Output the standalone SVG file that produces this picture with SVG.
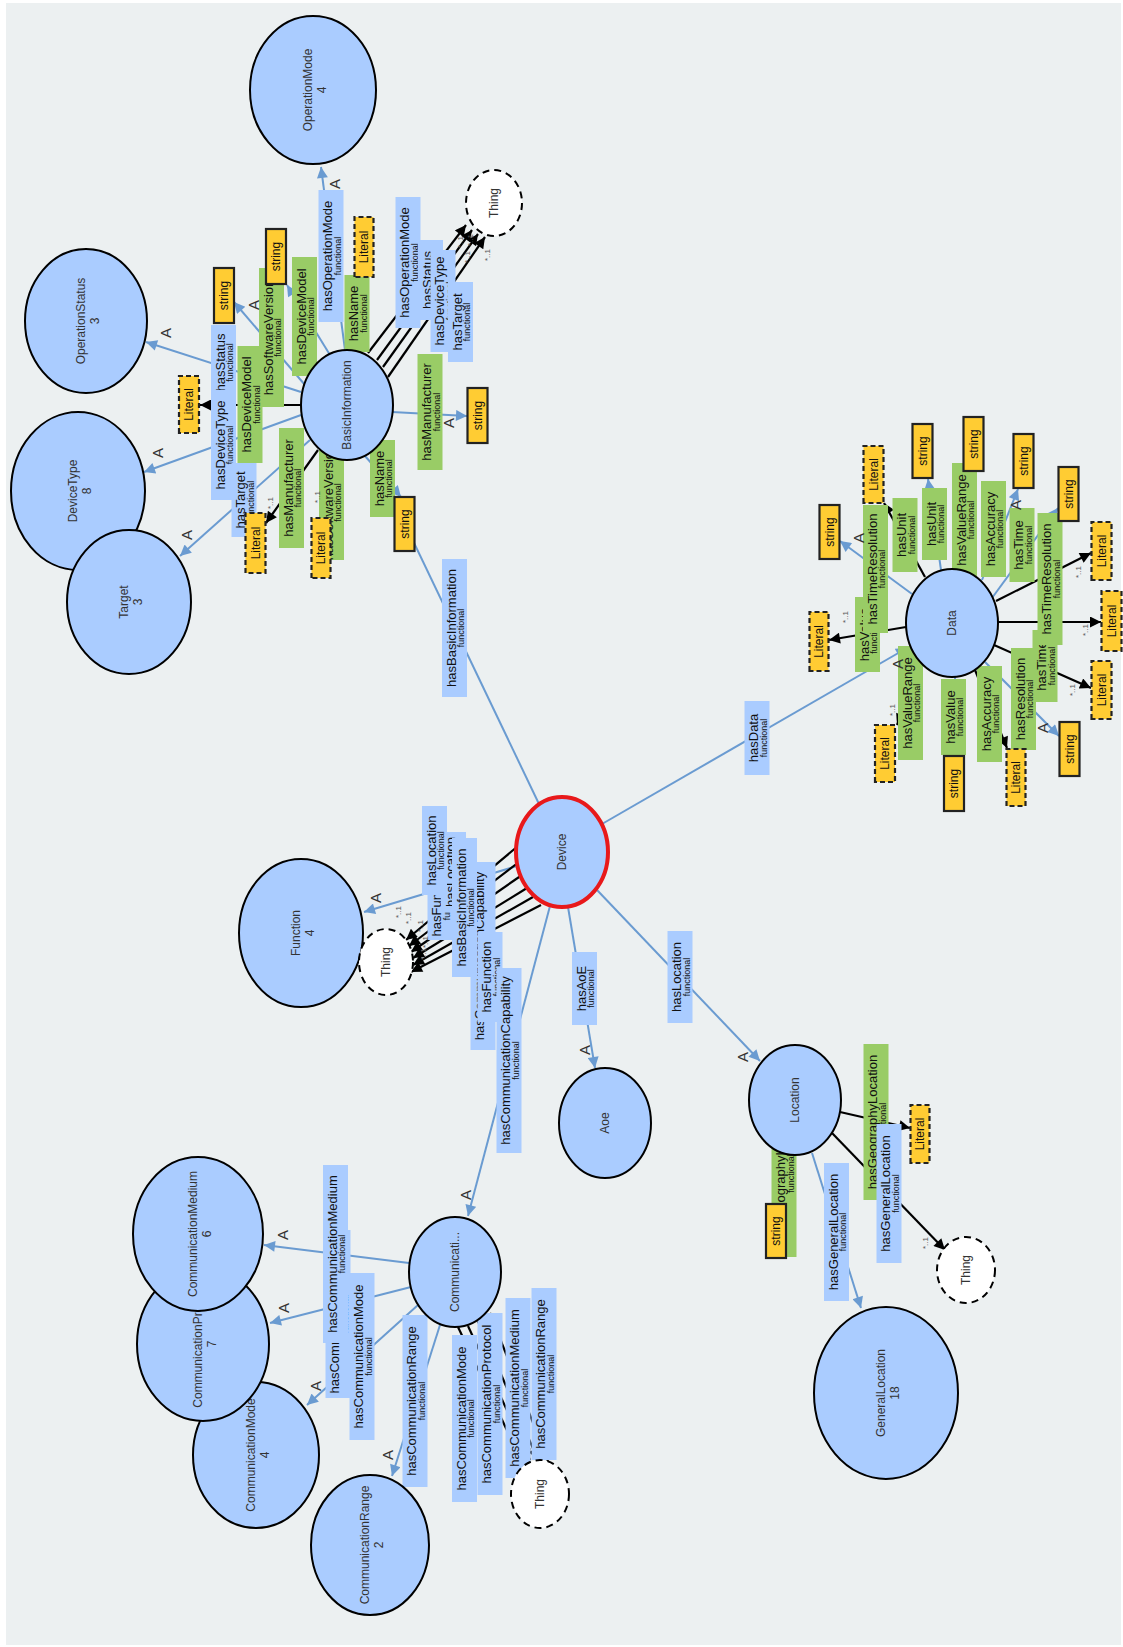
<svg xmlns="http://www.w3.org/2000/svg" width="1123" height="1647" viewBox="0 0 1123 1647">
<defs>
<style>
.bg{fill:#ecf0f1}
.e{fill:none;stroke:#6a9bd1;stroke-width:2}
.k{fill:none;stroke:#000;stroke-width:2.2}
.op{fill:#aaccff}
.dp{fill:#99cc66}
.dt{fill:#ffcc33;stroke:#222;stroke-width:2.2}
.li{stroke-dasharray:5 3}
.c{fill:#aaccff;stroke:#000;stroke-width:2}
.dev{fill:#aaccff;stroke:#e8191b;stroke-width:4}
.th{fill:#fff;stroke:#000;stroke-width:2;stroke-dasharray:7 5}
text{font-family:"Liberation Sans",Arial,sans-serif;text-anchor:middle;dominant-baseline:central;fill:#111}
.t{font-size:13px}
.f{font-size:9px}
.n{font-size:12px;fill:#333}
.d{font-size:12px}
.q{font-size:15px;fill:#333}
.cd{font-size:8px;fill:#555}
</style>
<marker id="ab" viewBox="0 0 10 10" refX="10" refY="5" markerWidth="13" markerHeight="11" markerUnits="userSpaceOnUse" orient="auto"><path d="M0,0L10,5L0,10z" fill="#6a9bd1"/></marker>
<marker id="ak" viewBox="0 0 10 10" refX="10" refY="5" markerWidth="13" markerHeight="11" markerUnits="userSpaceOnUse" orient="auto"><path d="M0,0L10,5L0,10z" fill="#000"/></marker>
</defs>
<rect width="1123" height="1647" fill="#fff"/>
<rect class="bg" x="6" y="3" width="1115" height="1642"/>

<g id="connectors">
<g id="lines-blue" class="e" marker-end="url(#ab)">
<path d="M539,804L371,453"/>
<path d="M602,824L907,648"/>
<path d="M597,890L760,1061"/>
<path d="M568,907L595,1068"/>
<path d="M550,906L468,1216"/>
<path d="M517,866L364,912"/>
<path d="M345,350L321,167"/>
<path d="M301,392L146,342"/>
<path d="M301,415L144,472"/>
<path d="M310,440L180,556"/>
<path d="M392,412L467,416"/>
<path d="M365,456L401,497"/>
<path d="M330,355L287,285"/>
<path d="M305,385L234,302"/>
<path d="M912,594L840,541"/>
<path d="M941,570L928,479"/>
<path d="M960,570L973,472"/>
<path d="M982,580L1018,489"/>
<path d="M992,598L1058,508"/>
<path d="M985,662L1059,736"/>
<path d="M955,677L954,755"/>
<path d="M812,1153L861,1308"/>
<path d="M790,1155L777,1203"/>
<path d="M409,1263L264,1245"/>
<path d="M411,1287L270,1323"/>
<path d="M418,1305L307,1405"/>
<path d="M440,1325L392,1476"/>
</g>
<g id="lines-black" class="k" marker-end="url(#ak)">
<path d="M301,405L200,405"/>
<path d="M318,450L266,523"/>
<path d="M335,459L322,517"/>
<path d="M352,350L363,278"/>
<path d="M368,353L466,225"/>
<path d="M377,360L472,230"/>
<path d="M383,367L478,234"/>
<path d="M388,377L485,237"/>
<path d="M518,846L406,940"/>
<path d="M519,862L409,946"/>
<path d="M522,875L411,952"/>
<path d="M527,888L413,958"/>
<path d="M533,897L413,965"/>
<path d="M541,905L411,972"/>
<path d="M925,577L884,503"/>
<path d="M906,627L829,640"/>
<path d="M922,665L897,725"/>
<path d="M975,670L1007,748"/>
<path d="M996,601L1091,553"/>
<path d="M998,622L1101,622"/>
<path d="M994,645L1091,688"/>
<path d="M840,1112L910,1128"/>
<path d="M832,1133L945,1250"/>
<path d="M458,1327L522,1462"/>
<path d="M468,1326L530,1460"/>
<path d="M478,1321L538,1460"/>
<path d="M490,1313L548,1461"/>
</g>

<g id="labels">
<g transform="translate(331 256) rotate(-90)"><rect class="op" x="-66" y="-12.5" width="132" height="25"/><text class="t" y="-3.5">hasOperationMode</text><text class="f" y="6.5">functional</text></g>
<g transform="translate(357 313.5) rotate(-90)"><rect class="dp" x="-38.5" y="-12.5" width="77" height="25"/><text class="t" y="-3.5">hasName</text><text class="f" y="6.5">functional</text></g>
<g transform="translate(304.5 316.5) rotate(-90)"><rect class="dp" x="-59.5" y="-12.5" width="119" height="25"/><text class="t" y="-3.5">hasDeviceModel</text><text class="f" y="6.5">functional</text></g>
<g transform="translate(271.5 337.5) rotate(-90)"><rect class="dp" x="-69.5" y="-12.5" width="139" height="25"/><text class="t" y="-3.5">hasSoftwareVersion</text><text class="f" y="6.5">functional</text></g>
<g transform="translate(223.5 362.5) rotate(-90)"><rect class="op" x="-37.5" y="-12.5" width="75" height="25"/><text class="t" y="-3.5">hasStatus</text><text class="f" y="6.5">functional</text></g>
<g transform="translate(223.5 445) rotate(-90)"><rect class="op" x="-55" y="-12.5" width="110" height="25"/><text class="t" y="-3.5">hasDeviceType</text><text class="f" y="6.5">functional</text></g>
<g transform="translate(250 404.5) rotate(-90)"><rect class="dp" x="-58.5" y="-12.5" width="117" height="25"/><text class="t" y="-3.5">hasDeviceModel</text><text class="f" y="6.5">functional</text></g>
<g transform="translate(244 500) rotate(-90)"><rect class="op" x="-37" y="-12.5" width="74" height="25"/><text class="t" y="-3.5">hasTarget</text><text class="f" y="6.5">functional</text></g>
<g transform="translate(291.5 488) rotate(-90)"><rect class="dp" x="-60" y="-12.5" width="120" height="25"/><text class="t" y="-3.5">hasManufacturer</text><text class="f" y="6.5">functional</text></g>
<g transform="translate(331.5 502.5) rotate(-90)"><rect class="dp" x="-57.5" y="-12.5" width="115" height="25"/><text class="t" y="-3.5">hasSoftwareVersion</text><text class="f" y="6.5">functional</text></g>
<g transform="translate(382.5 478.5) rotate(-90)"><rect class="dp" x="-38.5" y="-12.5" width="77" height="25"/><text class="t" y="-3.5">hasName</text><text class="f" y="6.5">functional</text></g>
<g transform="translate(430 412) rotate(-90)"><rect class="dp" x="-58" y="-12.5" width="116" height="25"/><text class="t" y="-3.5">hasManufacturer</text><text class="f" y="6.5">functional</text></g>
<g transform="translate(408 262.5) rotate(-90)"><rect class="op" x="-65.5" y="-12.5" width="131" height="25"/><text class="t" y="-3.5">hasOperationMode</text><text class="f" y="6.5">functional</text></g>
<g transform="translate(430.5 280) rotate(-90)"><rect class="op" x="-40" y="-12.5" width="80" height="25"/><text class="t" y="-3.5">hasStatus</text><text class="f" y="6.5">functional</text></g>
<g transform="translate(443 301) rotate(-90)"><rect class="op" x="-51" y="-12.5" width="102" height="25"/><text class="t" y="-3.5">hasDeviceType</text><text class="f" y="6.5">functional</text></g>
<g transform="translate(460.5 322) rotate(-90)"><rect class="op" x="-40" y="-12.5" width="80" height="25"/><text class="t" y="-3.5">hasTarget</text><text class="f" y="6.5">functional</text></g>
<g transform="translate(454.5 628) rotate(-90)"><rect class="op" x="-69" y="-12.5" width="138" height="25"/><text class="t" y="-3.5">hasBasicInformation</text><text class="f" y="6.5">functional</text></g>

<g transform="translate(757 738) rotate(-90)"><rect class="op" x="-37" y="-12.5" width="74" height="25"/><text class="t" y="-3.5">hasData</text><text class="f" y="6.5">functional</text></g>
<g transform="translate(680 977) rotate(-90)"><rect class="op" x="-46" y="-12.5" width="92" height="25"/><text class="t" y="-3.5">hasLocation</text><text class="f" y="6.5">functional</text></g>
<g transform="translate(584.5 988.5) rotate(-90)"><rect class="op" x="-36.5" y="-12.5" width="73" height="25"/><text class="t" y="-3.5">hasAoE</text><text class="f" y="6.5">functional</text></g>
<g transform="translate(483 956) rotate(-90)"><rect class="op" x="-94" y="-12.5" width="188" height="25"/><text class="t" y="-3.5">hasCommunicationCapability</text><text class="f" y="6.5">functional</text></g>
<g transform="translate(440 901) rotate(-90)"><rect class="op" x="-39" y="-12.5" width="78" height="25"/><text class="t" y="-3.5">hasFunction</text><text class="f" y="6.5">functional</text></g>
<g transform="translate(453.5 872) rotate(-90)"><rect class="op" x="-40" y="-12.5" width="80" height="25"/><text class="t" y="-3.5">hasLocation</text><text class="f" y="6.5">functional</text></g>
<g transform="translate(434.5 850.5) rotate(-90)"><rect class="op" x="-44.5" y="-12.5" width="89" height="25"/><text class="t" y="-3.5">hasLocation</text><text class="f" y="6.5">functional</text></g>
<g transform="translate(464.5 907.5) rotate(-90)"><rect class="op" x="-69.5" y="-12.5" width="139" height="25"/><text class="t" y="-3.5">hasBasicInformation</text><text class="f" y="6.5">functional</text></g>
<g transform="translate(490 977) rotate(-90)"><rect class="op" x="-45" y="-12.5" width="90" height="25"/><text class="t" y="-3.5">hasFunction</text><text class="f" y="6.5">functional</text></g>
<g transform="translate(509 1060.5) rotate(-90)"><rect class="op" x="-92.5" y="-12.5" width="185" height="25"/><text class="t" y="-3.5">hasCommunicationCapability</text><text class="f" y="6.5">functional</text></g>

<g transform="translate(867.5 634.5) rotate(-90)"><rect class="dp" x="-37.5" y="-12.5" width="75" height="25"/><text class="t" y="-3.5">hasValue</text><text class="f" y="6.5">functional</text></g>
<g transform="translate(875.5 569) rotate(-90)"><rect class="dp" x="-64" y="-12.5" width="128" height="25"/><text class="t" y="-3.5">hasTimeResolution</text><text class="f" y="6.5">functional</text></g>
<g transform="translate(905 535) rotate(-90)"><rect class="dp" x="-37" y="-12.5" width="74" height="25"/><text class="t" y="-3.5">hasUnit</text><text class="f" y="6.5">functional</text></g>
<g transform="translate(934.5 524) rotate(-90)"><rect class="dp" x="-36" y="-12.5" width="72" height="25"/><text class="t" y="-3.5">hasUnit</text><text class="f" y="6.5">functional</text></g>
<g transform="translate(964.5 520) rotate(-90)"><rect class="dp" x="-57" y="-12.5" width="114" height="25"/><text class="t" y="-3.5">hasValueRange</text><text class="f" y="6.5">functional</text></g>
<g transform="translate(993.5 529) rotate(-90)"><rect class="dp" x="-48" y="-12.5" width="96" height="25"/><text class="t" y="-3.5">hasAccuracy</text><text class="f" y="6.5">functional</text></g>
<g transform="translate(1045 666) rotate(-90)"><rect class="dp" x="-36" y="-12.5" width="72" height="25"/><text class="t" y="-3.5">hasTime</text><text class="f" y="6.5">functional</text></g>
<g transform="translate(1050 579) rotate(-90)"><rect class="dp" x="-66" y="-12.5" width="132" height="25"/><text class="t" y="-3.5">hasTimeResolution</text><text class="f" y="6.5">functional</text></g>
<g transform="translate(1022 545) rotate(-90)"><rect class="dp" x="-37" y="-12.5" width="74" height="25"/><text class="t" y="-3.5">hasTime</text><text class="f" y="6.5">functional</text></g>
<g transform="translate(1023.5 699) rotate(-90)"><rect class="dp" x="-51" y="-12.5" width="102" height="25"/><text class="t" y="-3.5">hasResolution</text><text class="f" y="6.5">functional</text></g>
<g transform="translate(989.5 714) rotate(-90)"><rect class="dp" x="-48" y="-12.5" width="96" height="25"/><text class="t" y="-3.5">hasAccuracy</text><text class="f" y="6.5">functional</text></g>
<g transform="translate(953.5 717) rotate(-90)"><rect class="dp" x="-38" y="-12.5" width="76" height="25"/><text class="t" y="-3.5">hasValue</text><text class="f" y="6.5">functional</text></g>
<g transform="translate(910.5 703) rotate(-90)"><rect class="dp" x="-57" y="-12.5" width="114" height="25"/><text class="t" y="-3.5">hasValueRange</text><text class="f" y="6.5">functional</text></g>

<g transform="translate(338 1314) rotate(-90)"><rect class="op" x="-84" y="-12.5" width="168" height="25"/><text class="t" y="-3.5">hasCommunicationProtocol</text><text class="f" y="6.5">functional</text></g>
<g transform="translate(335.5 1254) rotate(-90)"><rect class="op" x="-89" y="-12.5" width="178" height="25"/><text class="t" y="-3.5">hasCommunicationMedium</text><text class="f" y="6.5">functional</text></g>
<g transform="translate(362 1356.5) rotate(-90)"><rect class="op" x="-83.5" y="-12.5" width="167" height="25"/><text class="t" y="-3.5">hasCommunicationMode</text><text class="f" y="6.5">functional</text></g>
<g transform="translate(415 1401) rotate(-90)"><rect class="op" x="-86" y="-12.5" width="172" height="25"/><text class="t" y="-3.5">hasCommunicationRange</text><text class="f" y="6.5">functional</text></g>
<g transform="translate(464.5 1418.5) rotate(-90)"><rect class="op" x="-83.5" y="-12.5" width="167" height="25"/><text class="t" y="-3.5">hasCommunicationMode</text><text class="f" y="6.5">functional</text></g>
<g transform="translate(490 1404) rotate(-90)"><rect class="op" x="-91" y="-12.5" width="182" height="25"/><text class="t" y="-3.5">hasCommunicationProtocol</text><text class="f" y="6.5">functional</text></g>
<g transform="translate(518 1388) rotate(-90)"><rect class="op" x="-90" y="-12.5" width="180" height="25"/><text class="t" y="-3.5">hasCommunicationMedium</text><text class="f" y="6.5">functional</text></g>
<g transform="translate(544 1374) rotate(-90)"><rect class="op" x="-86" y="-12.5" width="172" height="25"/><text class="t" y="-3.5">hasCommunicationRange</text><text class="f" y="6.5">functional</text></g>

<g transform="translate(784 1173.5) rotate(-90)"><rect class="dp" x="-83.5" y="-12.5" width="167" height="25"/><text class="t" y="-3.5">hasGeographyLocation</text><text class="f" y="6.5">functional</text></g>
<g transform="translate(836.5 1232) rotate(-90)"><rect class="op" x="-69" y="-12.5" width="138" height="25"/><text class="t" y="-3.5">hasGeneralLocation</text><text class="f" y="6.5">functional</text></g>
<g transform="translate(876 1122) rotate(-90)"><rect class="dp" x="-78" y="-12.5" width="156" height="25"/><text class="t" y="-3.5">hasGeographyLocation</text><text class="f" y="6.5">functional</text></g>
<g transform="translate(889 1193.5) rotate(-90)"><rect class="op" x="-69.5" y="-12.5" width="139" height="25"/><text class="t" y="-3.5">hasGeneralLocation</text><text class="f" y="6.5">functional</text></g>
</g>

<g id="restriction-marks">
<text class="q" transform="translate(334 184) rotate(-90)">A</text>
<text class="q" transform="translate(165 333) rotate(-90)">A</text>
<text class="q" transform="translate(157 453) rotate(-90)">A</text>
<text class="q" transform="translate(186 535) rotate(-90)">A</text>
<text class="q" transform="translate(448 423) rotate(-90)">A</text>
<text class="q" transform="translate(253 305) rotate(-90)">A</text>
<text class="q" transform="translate(375 898) rotate(-90)">A</text>
<text class="q" transform="translate(584 1050) rotate(-90)">A</text>
<text class="q" transform="translate(742 1057) rotate(-90)">A</text>
<text class="q" transform="translate(465 1195) rotate(-90)">A</text>
<text class="q" transform="translate(282 1235) rotate(-90)">A</text>
<text class="q" transform="translate(283 1308) rotate(-90)">A</text>
<text class="q" transform="translate(315 1386) rotate(-90)">A</text>
<text class="q" transform="translate(387 1455) rotate(-90)">A</text>
<text class="q" transform="translate(858 538) rotate(-90)">A</text>
<text class="q" transform="translate(1015 505) rotate(-90)">A</text>
<text class="q" transform="translate(1042 728) rotate(-90)">A</text>
<text class="q" transform="translate(897 664) rotate(-90)">A</text>
</g>
<g id="cardinalities">
<text class="cd" transform="translate(460 242) rotate(-90)">*..1</text>
<text class="cd" transform="translate(470 240) rotate(-90)">*..1</text>
<text class="cd" transform="translate(467 257) rotate(-90)">*..1</text>
<text class="cd" transform="translate(487 255) rotate(-90)">*..1</text>
<text class="cd" transform="translate(270 503) rotate(-90)">*..1</text>
<text class="cd" transform="translate(317 497) rotate(-90)">*..1</text>
<text class="cd" transform="translate(398 912) rotate(-90)">*..1</text>
<text class="cd" transform="translate(408 918) rotate(-90)">*..1</text>
<text class="cd" transform="translate(420 926) rotate(-90)">*..1</text>
<text class="cd" transform="translate(425 942) rotate(-90)">*..1</text>
<text class="cd" transform="translate(423 954) rotate(-90)">*..1</text>
<text class="cd" transform="translate(845 617) rotate(-90)">*..1</text>
<text class="cd" transform="translate(892 710) rotate(-90)">*..1</text>
<text class="cd" transform="translate(1078 572) rotate(-90)">*..1</text>
<text class="cd" transform="translate(1085 630) rotate(-90)">*..1</text>
<text class="cd" transform="translate(1072 690) rotate(-90)">*..1</text>
<text class="cd" transform="translate(925 1243) rotate(-90)">*..1</text>
</g>
</g>

<g id="nodes">
<g id="n-OperationMode"><ellipse class="c" cx="313" cy="90" rx="63" ry="74"/><g transform="translate(313 90) rotate(-90)"><text class="n" y="-5">OperationMode</text><text class="n" y="9">4</text></g></g>
<g id="n-OperationStatus"><ellipse class="c" cx="86" cy="321" rx="61" ry="72"/><g transform="translate(86 321) rotate(-90)"><text class="n" y="-5">OperationStatus</text><text class="n" y="9">3</text></g></g>
<g id="n-DeviceType"><ellipse class="c" cx="78" cy="491" rx="67" ry="79"/><g transform="translate(78 491) rotate(-90)"><text class="n" y="-5">DeviceType</text><text class="n" y="9">8</text></g></g>
<g id="n-Target"><ellipse class="c" cx="129" cy="602" rx="62" ry="72"/><g transform="translate(129 602) rotate(-90)"><text class="n" y="-5">Target</text><text class="n" y="9">3</text></g></g>
<g id="n-Thing1"><ellipse class="th" cx="494" cy="203" rx="28" ry="33"/><text class="n" transform="translate(494 203) rotate(-90)">Thing</text></g>
<g id="n-BasicInformation"><ellipse class="c" cx="347" cy="405" rx="46" ry="55"/><text class="n" transform="translate(347 405) rotate(-90)">BasicInformation</text></g>
<g id="n-Function"><ellipse class="c" cx="301" cy="933" rx="62" ry="74"/><g transform="translate(301 933) rotate(-90)"><text class="n" y="-5">Function</text><text class="n" y="9">4</text></g></g>
<g id="n-Thing2"><ellipse class="th" cx="386" cy="962" rx="27" ry="33"/><text class="n" transform="translate(386 962) rotate(-90)">Thing</text></g>
<g id="n-Device"><ellipse class="dev" cx="562" cy="852" rx="46" ry="55"/><text class="n" transform="translate(562 852) rotate(-90)">Device</text></g>
<g id="n-Aoe"><ellipse class="c" cx="605" cy="1123" rx="46" ry="55"/><text class="n" transform="translate(605 1123) rotate(-90)">Aoe</text></g>
<g id="n-CommunicationMode"><ellipse class="c" cx="256" cy="1455" rx="63" ry="73"/><g transform="translate(256 1455) rotate(-90)"><text class="n" y="-5">CommunicationMode</text><text class="n" y="9">4</text></g></g>
<g id="n-CommunicationProtocol"><ellipse class="c" cx="203" cy="1344" rx="66" ry="77"/><g transform="translate(203 1344) rotate(-90)"><text class="n" y="-5">CommunicationProtocol</text><text class="n" y="9">7</text></g></g>
<g id="n-CommunicationMedium"><ellipse class="c" cx="198" cy="1234" rx="65" ry="77"/><g transform="translate(198 1234) rotate(-90)"><text class="n" y="-5">CommunicationMedium</text><text class="n" y="9">6</text></g></g>
<g id="n-CommunicationRange"><ellipse class="c" cx="370" cy="1545" rx="59" ry="70"/><g transform="translate(370 1545) rotate(-90)"><text class="n" y="-5">CommunicationRange</text><text class="n" y="9">2</text></g></g>
<g id="n-CommunicationCapability"><ellipse class="c" cx="455" cy="1272" rx="46" ry="55"/><text class="n" transform="translate(455 1272) rotate(-90)">Communicati...</text></g>
<g id="n-Thing3"><ellipse class="th" cx="540" cy="1494" rx="29" ry="34"/><text class="n" transform="translate(540 1494) rotate(-90)">Thing</text></g>
<g id="n-Location"><ellipse class="c" cx="795" cy="1100" rx="46" ry="55"/><text class="n" transform="translate(795 1100) rotate(-90)">Location</text></g>
<g id="n-GeneralLocation"><ellipse class="c" cx="886" cy="1393" rx="72" ry="86"/><g transform="translate(886 1393) rotate(-90)"><text class="n" y="-5">GeneralLocation</text><text class="n" y="9">18</text></g></g>
<g id="n-Thing4"><ellipse class="th" cx="966" cy="1270" rx="29" ry="33"/><text class="n" transform="translate(966 1270) rotate(-90)">Thing</text></g>
<g id="n-Data"><ellipse class="c" cx="952" cy="623" rx="46" ry="54"/><text class="n" transform="translate(952 623) rotate(-90)">Data</text></g>

<g id="dt-s1" transform="translate(276 256.5) rotate(-90)"><rect class="dt" x="-27.5" y="-10" width="55" height="20"/><text class="d">string</text></g>
<g id="dt-s2" transform="translate(224 295.5) rotate(-90)"><rect class="dt" x="-27.5" y="-10" width="55" height="20"/><text class="d">string</text></g>
<g id="dt-l1" transform="translate(364 247) rotate(-90)"><rect class="dt li" x="-30" y="-9.5" width="60" height="19"/><text class="d">Literal</text></g>
<g id="dt-l2" transform="translate(189 404.5) rotate(-90)"><rect class="dt li" x="-28.5" y="-10" width="57" height="20"/><text class="d">Literal</text></g>
<g id="dt-s3" transform="translate(477.5 415.5) rotate(-90)"><rect class="dt" x="-27.5" y="-10" width="55" height="20"/><text class="d">string</text></g>
<g id="dt-s4" transform="translate(404.5 524) rotate(-90)"><rect class="dt" x="-27" y="-10" width="54" height="20"/><text class="d">string</text></g>
<g id="dt-l3" transform="translate(255.5 543) rotate(-90)"><rect class="dt li" x="-30" y="-10" width="60" height="20"/><text class="d">Literal</text></g>
<g id="dt-l4" transform="translate(321 548) rotate(-90)"><rect class="dt li" x="-30" y="-9.5" width="60" height="19"/><text class="d">Literal</text></g>
<g id="dt-l5" transform="translate(873.5 474.5) rotate(-90)"><rect class="dt li" x="-28.5" y="-10" width="57" height="20"/><text class="d">Literal</text></g>
<g id="dt-s5" transform="translate(922.5 451) rotate(-90)"><rect class="dt" x="-27" y="-10" width="54" height="20"/><text class="d">string</text></g>
<g id="dt-s6" transform="translate(973.5 444) rotate(-90)"><rect class="dt" x="-27" y="-10" width="54" height="20"/><text class="d">string</text></g>
<g id="dt-s7" transform="translate(1023.5 461) rotate(-90)"><rect class="dt" x="-27" y="-10" width="54" height="20"/><text class="d">string</text></g>
<g id="dt-s8" transform="translate(1068.5 494) rotate(-90)"><rect class="dt" x="-27" y="-10" width="54" height="20"/><text class="d">string</text></g>
<g id="dt-s9" transform="translate(829.5 532) rotate(-90)"><rect class="dt" x="-27" y="-10" width="54" height="20"/><text class="d">string</text></g>
<g id="dt-l6" transform="translate(819 641.5) rotate(-90)"><rect class="dt li" x="-29.5" y="-9.5" width="59" height="19"/><text class="d">Literal</text></g>
<g id="dt-l7" transform="translate(885 753.5) rotate(-90)"><rect class="dt li" x="-28.5" y="-10" width="57" height="20"/><text class="d">Literal</text></g>
<g id="dt-s10" transform="translate(954 783.5) rotate(-90)"><rect class="dt" x="-27.5" y="-10" width="55" height="20"/><text class="d">string</text></g>
<g id="dt-l8" transform="translate(1016 777.5) rotate(-90)"><rect class="dt li" x="-28.5" y="-9.5" width="57" height="19"/><text class="d">Literal</text></g>
<g id="dt-s11" transform="translate(1069.5 749) rotate(-90)"><rect class="dt" x="-27" y="-10" width="54" height="20"/><text class="d">string</text></g>
<g id="dt-l9" transform="translate(1101.5 551) rotate(-90)"><rect class="dt li" x="-29" y="-10" width="58" height="20"/><text class="d">Literal</text></g>
<g id="dt-l10" transform="translate(1111.5 621) rotate(-90)"><rect class="dt li" x="-30" y="-10" width="60" height="20"/><text class="d">Literal</text></g>
<g id="dt-l11" transform="translate(1101.5 690) rotate(-90)"><rect class="dt li" x="-29" y="-10" width="58" height="20"/><text class="d">Literal</text></g>
<g id="dt-l12" transform="translate(920 1134) rotate(-90)"><rect class="dt li" x="-29" y="-9.5" width="58" height="19"/><text class="d">Literal</text></g>
<g id="dt-s12" transform="translate(776 1231) rotate(-90)"><rect class="dt" x="-27" y="-10" width="54" height="20"/><text class="d">string</text></g>
</g>
</svg>
